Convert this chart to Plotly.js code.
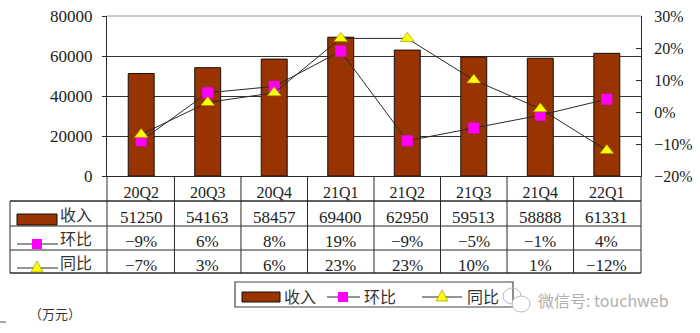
<!DOCTYPE html>
<html><head><meta charset="utf-8">
<script src="https://cdn.plot.ly/plotly-3.0.1.min.js"></script>
<style>html,body{margin:0;padding:0;background:#fff;}#chart{width:700px;height:333px;}</style>
</head><body><div id="chart"></div>
<script>
// ---- data ----
const categories = ['20Q2','20Q3','20Q4','21Q1','21Q2','21Q3','21Q4','22Q1'];
const revenue = [51250,54163,58457,69400,62950,59513,58888,61331]; // 收入 (万元)
const qoq = [-9,6,8,19,-9,-5,-1,4];      // 环比 %
const yoy = [-7,3,6,23,23,10,1,-12];     // 同比 %
const seriesNames = ['收入','环比','同比'];
const unitLabel = '（万元）';
const watermark = '微信号: touchweb';
const leftTicks = [0,20000,40000,60000,80000];
const rightTicks = [-20,-10,0,10,20,30];

// ---- geometry helpers (pixel -> paper) ----
const L=107, R=641, T=16, B=176, W=R-L, H=B-T;
const px = x => (x-L)/W;
const py = y => (B-y)/H;
const BROWN='#993300', MAG='#FF00FF', YEL='#FFFF00', INK='#2a2a2a';
const SERIF='Liberation Serif';
const CJK='Noto Sans CJK SC';
const fmtPct = v => (v<0 ? '\u2212'+Math.abs(v) : String(v)) + '%';

const traces = [
  {type:'bar', x:categories, y:revenue, name:seriesNames[0], width:0.39,
   marker:{color:BROWN, line:{color:'#111', width:1}}, hoverinfo:'skip'},
  {type:'scatter', mode:'lines+markers', x:categories, y:qoq, yaxis:'y2', name:seriesNames[1],
   line:{color:INK, width:1}, marker:{symbol:'square', size:11, color:MAG}, hoverinfo:'skip'},
  {type:'scatter', mode:'lines+markers', x:categories, y:yoy, yaxis:'y2', name:seriesNames[2],
   line:{color:INK, width:1}, marker:{symbol:'triangle-up', size:12, color:YEL, line:{color:'#8a8a00', width:0.6}}, hoverinfo:'skip'}
];

const shapes = [];
const annotations = [];
const ln = (x0,y0,x1,y1,color,width,xref) => shapes.push({type:'line', xref:xref||'paper', yref:'paper',
  x0:x0, y0:y0, x1:x1, y1:y1, line:{color:color||INK, width:width||1}, layer:'above'});
// top border (light)
ln(0,1,1,1,'#9a9a9a',1);
// table frame
ln(0,py(B),0,py(273)); ln(1,py(B),1,py(273));
ln(px(10),py(201),1,py(201),INK,1.6);
ln(px(10),py(226),1,py(226));
ln(px(10),py(250),1,py(250));
ln(px(10),py(273),1,py(273),INK,1.3);
ln(px(10),py(201),px(10),py(273));
for (let i=0;i<categories.length-1;i++) ln(i+0.5,py(B),i+0.5,py(273),INK,1,'x');

// row keys in table
const rowY = [217,241,265];
const keyRect = (x0,y0,x1,y1,fill,lc) => shapes.push({type:'rect', xref:'paper', yref:'paper',
  x0:px(x0), y0:py(y0), x1:px(x1), y1:py(y1), fillcolor:fill, line:{color:lc||'rgba(0,0,0,0)', width:lc?1:0}, layer:'above'});
const keyTri = (cx,cy,fill) => shapes.push({type:'path', xref:'paper', yref:'paper',
  path:`M${px(cx)},${py(cy-6)} L${px(cx-6)},${py(cy+5)} L${px(cx+6)},${py(cy+5)} Z`,
  fillcolor:fill, line:{color:'#8a8a00', width:0.6}, layer:'above'});
keyRect(17,214,57,225,BROWN,'#111');
ln(px(17),py(244),px(58),py(244)); keyRect(32,239,42,249,MAG);
ln(px(17),py(268),px(58),py(268)); keyTri(37,267,YEL);
const txt = (x,y,text,opt) => annotations.push(Object.assign({xref:'paper', yref:'paper', x:x, y:y, text:text,
  showarrow:false, xanchor:'left', yanchor:'middle', font:{family:CJK, size:16, color:'#333'}}, opt||{}));
seriesNames.forEach((n,k)=>txt(px(58), py(rowY[k]-3), n));

// table values
const rows = [revenue.map(String), qoq.map(fmtPct), yoy.map(fmtPct)];
rows.forEach((r,k)=>r.forEach((t,i)=>annotations.push({xref:'x', yref:'paper', x:categories[i], y:py(rowY[k]),
  text:t, showarrow:false, xanchor:'center', yanchor:'middle', font:{family:SERIF, size:17, color:'#222'}})));

// bottom legend
shapes.push({type:'rect', xref:'paper', yref:'paper', x0:px(235), y0:py(282), x1:px(513), y1:py(307),
  fillcolor:'rgba(0,0,0,0)', line:{color:'#444', width:1.2}, layer:'above'});
keyRect(242,292,280,302,BROWN,'#111'); txt(px(282), py(296), seriesNames[0]);
ln(px(327),py(297),px(360),py(297)); keyRect(338,292,348,302,MAG); txt(px(362), py(296), seriesNames[1]);
ln(px(422),py(297),px(462),py(297)); keyTri(442,296,YEL); txt(px(465), py(296), seriesNames[2]);

// unit label + small mark
txt(px(27), py(313), unitLabel, {font:{family:CJK, size:13, color:'#333'}});
ln(px(0),py(322),px(6),py(322),'#555',1);

// watermark
shapes.push({type:'circle', xref:'paper', yref:'paper', x0:px(503), y0:py(288), x1:px(521), y1:py(304),
  line:{color:'#bbb', width:1}, layer:'above'});
shapes.push({type:'circle', xref:'paper', yref:'paper', x0:px(512), y0:py(296), x1:px(530), y1:py(312),
  line:{color:'#bbb', width:1}, fillcolor:'#fff', layer:'above'});
txt(px(536), py(300), watermark, {font:{family:CJK, size:16, color:'#b0b0b0'}});

const layout = {
  width:700, height:333, margin:{l:L, r:700-R, t:T, b:333-B, pad:0},
  font:{family:SERIF, color:'#222'},
  paper_bgcolor:'#fff', plot_bgcolor:'#fff', showlegend:false, bargap:0,
  xaxis:{type:'category', showline:true, linecolor:INK, linewidth:1, ticks:'', showgrid:false,
    tickfont:{family:SERIF, size:16, color:'#222'}, ticklabelstandoff:2, fixedrange:true},
  yaxis:{range:[0,80000], tickvals:leftTicks, ticktext:leftTicks.map(String), showgrid:true, gridcolor:'#333', gridwidth:1,
    showline:true, linecolor:INK, ticks:'outside', ticklen:4, tickcolor:INK, zeroline:false,
    tickfont:{family:SERIF, size:17, color:'#222'}, ticklabelstandoff:6, fixedrange:true},
  yaxis2:{overlaying:'y', side:'right', range:[-20,30], tickvals:rightTicks, ticktext:rightTicks.map(fmtPct),
    showgrid:false, zeroline:false, showline:true, linecolor:INK, ticks:'inside', ticklen:5, tickcolor:INK,
    tickfont:{family:SERIF, size:16, color:'#222'}, ticklabelstandoff:9, fixedrange:true},
  shapes:shapes, annotations:annotations
};
Plotly.newPlot('chart', traces, layout, {displayModeBar:false, staticPlot:true});
</script></body></html>
